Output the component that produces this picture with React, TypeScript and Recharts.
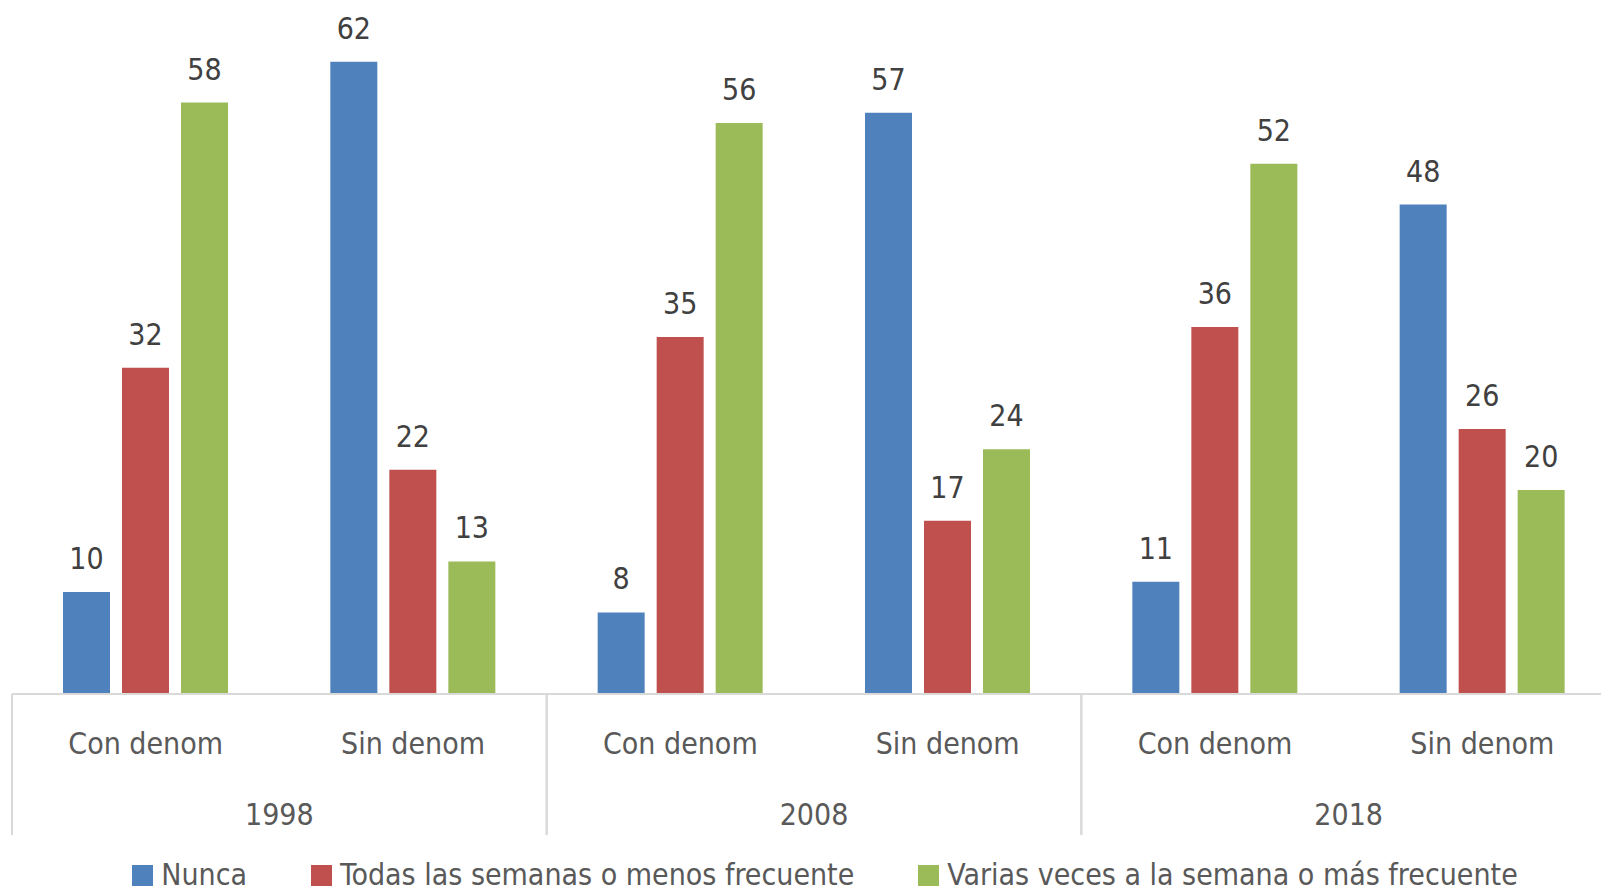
import React from 'react'
import { BarChart, Bar, XAxis, YAxis, LabelList, Legend } from 'recharts'

const years = ['1998', '1998', '2008', '2008', '2018', '2018']
const groups = ['Con denom', 'Sin denom', 'Con denom', 'Sin denom', 'Con denom', 'Sin denom']
const nunca = [10, 62, 8, 57, 11, 48]
const todas = [32, 22, 35, 17, 36, 26]
const varias = [58, 13, 56, 24, 52, 20]
const seriesNames = ['Nunca', 'Todas las semanas o menos frecuente', 'Varias veces a la semana o más frecuente']

const data = groups.map((g, i) => ({
  year: years[i],
  group: g,
  nunca: nunca[i],
  todas: todas[i],
  varias: varias[i],
}))

const FONT = '"DejaVu Sans Condensed", "Liberation Sans", sans-serif'
const CHART_W = 1620
const MARGIN_L = 12
const MARGIN_R = 4
const HALF_BAND = (CHART_W - MARGIN_L - MARGIN_R) / 3 / 2
const GRID = '#d9d9d9'

function GroupTick({ x, y, payload }: any) {
  return (
    <text x={x} y={y + 51} textAnchor="middle" dominantBaseline="middle" fill="#595959" fontSize={30} fontFamily={FONT}>
      {payload.value}
    </text>
  )
}

function YearTick({ x, y, payload }: any) {
  return (
    <g>
      <line x1={x - HALF_BAND} x2={x - HALF_BAND} y1={y - 70} y2={y + 71} stroke={GRID} strokeWidth={2} />
      <line x1={x + HALF_BAND} x2={x + HALF_BAND} y1={y - 70} y2={y + 71} stroke={GRID} strokeWidth={2} />
      <text x={x} y={y + 52} textAnchor="middle" dominantBaseline="middle" fill="#595959" fontSize={30} fontFamily={FONT}>
        {payload.value}
      </text>
    </g>
  )
}

function LegendContent({ payload }: any) {
  return (
    <div style={{ display: 'flex', justifyContent: 'center', gap: 64, height: 40, alignItems: 'center', paddingLeft: 22 }}>
      {(payload || []).map((p: any) => (
        <div key={p.value} style={{ display: 'flex', alignItems: 'center', gap: 8 }}>
          <span style={{ width: 21, height: 21, background: p.color, display: 'inline-block' }} />
          <span style={{ fontFamily: FONT, fontSize: 30, color: '#595959', lineHeight: '40px' }}>{p.value}</span>
        </div>
      ))}
    </div>
  )
}

export default function App() {
  return (
    <div style={{ position: 'absolute', left: 0, top: 0, width: 1601, height: 894, overflow: 'hidden', background: '#fff' }}>
      <BarChart
        width={CHART_W}
        height={900}
        data={data}
        margin={{ top: 21, right: MARGIN_R, left: MARGIN_L, bottom: 5 }}
        barSize={47}
        barGap={12}
      >
        <YAxis hide domain={[0, 66]} />
        <XAxis
          dataKey="group"
          axisLine={{ stroke: GRID, strokeWidth: 2 }}
          tickLine={false}
          tickSize={0}
          tickMargin={0}
          height={70}
          interval={0}
          tick={<GroupTick />}
        />
        <XAxis
          xAxisId="year"
          dataKey="year"
          allowDuplicatedCategory={false}
          axisLine={false}
          tickLine={false}
          tickSize={0}
          tickMargin={0}
          height={91}
          interval={0}
          tick={<YearTick />}
        />
        <Legend verticalAlign="bottom" content={<LegendContent />} />
        <Bar dataKey="nunca" name={seriesNames[0]} fill="#4f81bd" isAnimationActive={false}>
          <LabelList dataKey="nunca" position="top" offset={23} fill="#404040" fontSize={30} fontFamily={FONT} />
        </Bar>
        <Bar dataKey="todas" name={seriesNames[1]} fill="#c0504d" isAnimationActive={false}>
          <LabelList dataKey="todas" position="top" offset={23} fill="#404040" fontSize={30} fontFamily={FONT} />
        </Bar>
        <Bar dataKey="varias" name={seriesNames[2]} fill="#9bbb59" isAnimationActive={false}>
          <LabelList dataKey="varias" position="top" offset={23} fill="#404040" fontSize={30} fontFamily={FONT} />
        </Bar>
      </BarChart>
    </div>
  )
}
